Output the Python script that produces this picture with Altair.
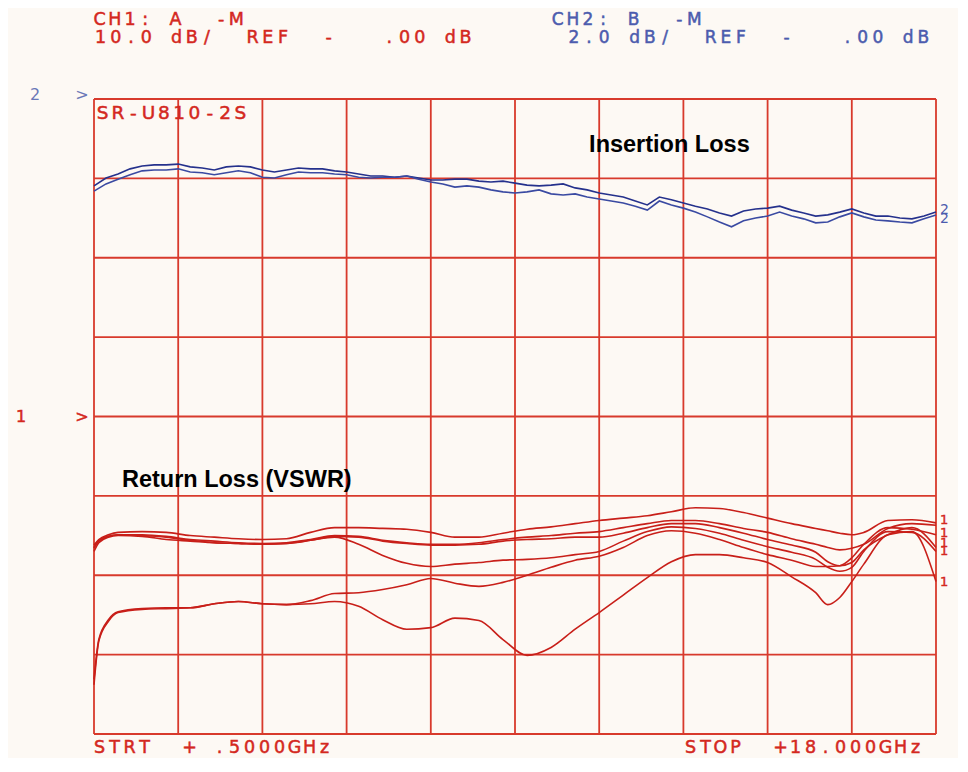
import altair as alt
import pandas as pd

# ---------------- colours ----------------
RED = "#d4281e"
RED_GRID = "#d83a2c"
RED_TRACE = "#c81f19"
BLUE_A = "#25318c"
BLUE_B = "#3a4aa2"
BLUE_TXT = "#4c5cae"
BG = "#fdf9f4"

# ---------------- data: channel 2 (insertion loss, dB) ----------------
FREQ_IL = [0.5, 0.75, 1.0, 1.25, 1.5, 1.75, 2.0, 2.25, 2.5, 2.75, 3.0, 3.25, 3.5, 3.75,
           4.0, 4.25, 4.5, 4.75, 5.0, 5.25, 5.5, 5.75, 6.0, 6.25, 6.5, 6.75, 7.0, 7.25,
           7.5, 7.75, 8.0, 8.25, 8.5, 8.75, 9.0, 9.25, 9.5, 9.75, 10.0, 10.25, 10.5, 10.75,
           11.0, 11.25, 11.5, 11.75, 12.0, 12.25, 12.5, 12.75, 13.0, 13.25, 13.5, 13.75,
           14.0, 14.25, 14.5, 14.75, 15.0, 15.25, 15.5, 15.75, 16.0, 16.25, 16.5, 16.75,
           17.0, 17.25, 17.5, 17.75, 18.0]
IL_UPPER = [-2.19, -1.99, -1.89, -1.76, -1.69, -1.66, -1.66, -1.64, -1.71, -1.74, -1.79, -1.71,
            -1.69, -1.71, -1.79, -1.84, -1.79, -1.74, -1.76, -1.76, -1.81, -1.84, -1.89, -1.94,
            -1.94, -1.97, -1.94, -1.99, -2.04, -2.04, -2.02, -2.02, -2.07, -2.09, -2.07, -2.12,
            -2.17, -2.19, -2.17, -2.14, -2.24, -2.29, -2.37, -2.42, -2.47, -2.57, -2.67, -2.47,
            -2.54, -2.62, -2.70, -2.77, -2.87, -2.95, -2.82, -2.77, -2.75, -2.70, -2.80, -2.87,
            -2.95, -2.92, -2.85, -2.77, -2.87, -2.95, -2.95, -3.00, -3.02, -2.95, -2.85]
IL_LOWER = [-2.32, -2.14, -2.02, -1.91, -1.81, -1.79, -1.79, -1.76, -1.84, -1.86, -1.91, -1.86,
            -1.81, -1.86, -1.97, -1.99, -1.91, -1.84, -1.86, -1.86, -1.89, -1.91, -1.97, -1.99,
            -1.97, -1.97, -1.94, -2.02, -2.09, -2.14, -2.22, -2.19, -2.22, -2.29, -2.34, -2.37,
            -2.34, -2.29, -2.39, -2.42, -2.39, -2.47, -2.52, -2.57, -2.62, -2.70, -2.80, -2.57,
            -2.67, -2.75, -2.85, -2.97, -3.10, -3.22, -3.07, -3.00, -2.95, -2.85, -2.95, -3.02,
            -3.12, -3.10, -2.97, -2.87, -2.97, -3.05, -3.07, -3.10, -3.12, -3.02, -2.92]
IL_LABEL_DB = [-2.80, -3.02]

# ---------------- data: channel 1 (return loss, dB) ----------------
FREQ_RL = [0.5, 0.6, 0.8, 1.0, 1.5, 2.0, 2.5, 3.0, 3.5, 4.0, 4.5, 5.0, 5.5, 6.0, 6.5, 7.0,
           7.5, 8.0, 8.5, 9.0, 9.5, 10.0, 10.5, 11.0, 11.5, 12.0, 12.5, 13.0, 13.5, 14.0,
           14.5, 15.0, 15.5, 15.75, 16.0, 16.25, 16.5, 17.0, 17.5, 18.0]
RL_1 = [-16.2, -15.5, -14.9, -14.6, -14.5, -14.6, -15.0, -15.2, -15.4, -15.5, -15.4, -14.6,
        -14.0, -14.0, -14.1, -14.2, -14.6, -15.2, -15.2, -14.7, -14.2, -13.9, -13.5, -13.1,
        -12.8, -12.5, -12.0, -11.5, -11.6, -12.1, -12.8, -13.5, -14.1, -14.4, -14.7, -14.9,
        -14.6, -13.1, -13.0, -13.4]
RL_2 = [-16.6, -15.6, -15.1, -14.9, -14.9, -15.1, -15.5, -15.7, -15.9, -16.0, -15.9, -15.5,
        -15.0, -15.1, -15.6, -15.9, -16.1, -16.1, -15.9, -15.5, -15.2, -15.0, -14.7, -14.5,
        -14.0, -13.5, -13.1, -13.1, -13.5, -14.1, -14.6, -15.4, -16.1, -16.5, -16.8, -16.6,
        -16.1, -14.1, -13.5, -13.7]
RL_3 = [-17.0, -15.9, -15.2, -15.0, -15.1, -15.5, -15.7, -15.9, -16.0, -16.1, -16.0, -15.6,
        -15.1, -15.2, -15.7, -16.0, -16.2, -16.2, -16.1, -15.7, -15.5, -15.4, -15.2, -15.2,
        -14.7, -14.0, -13.5, -13.5, -14.0, -14.7, -15.5, -16.2, -17.1, -18.3, -18.8, -18.4,
        -16.8, -14.9, -14.0, -16.5]
RL_4 = [-16.5, -15.7, -15.1, -14.9, -15.0, -15.2, -15.6, -15.9, -16.0, -16.1, -16.0, -15.6,
        -15.2, -16.1, -17.5, -18.5, -18.9, -18.6, -18.4, -18.1, -18.0, -17.8, -17.4, -17.0,
        -15.7, -14.5, -13.9, -14.1, -14.7, -15.6, -16.4, -17.1, -18.0, -19.0, -19.5, -19.0,
        -17.0, -14.5, -14.6, -17.0]
RL_5 = [-33.1, -28.1, -25.6, -24.6, -24.2, -24.1, -24.1, -23.6, -23.3, -23.6, -23.7, -23.2,
        -22.3, -22.2, -21.8, -21.2, -20.4, -21.0, -21.4, -20.9, -20.0, -19.0, -18.1, -17.6,
        -16.5, -15.0, -14.4, -14.7, -15.5, -16.5, -17.4, -18.1, -18.9, -18.9, -18.8, -17.8,
        -16.1, -14.0, -14.2, -14.9]
RL_6 = [-33.8, -28.3, -25.8, -24.7, -24.3, -24.2, -24.1, -23.6, -23.3, -23.6, -23.7, -23.6,
        -23.3, -23.9, -25.6, -26.8, -26.6, -25.4, -25.7, -28.1, -30.1, -29.1, -26.8, -24.7,
        -22.5, -20.3, -18.3, -17.4, -17.4, -17.8, -18.4, -20.2, -22.2, -23.7, -22.8, -20.8,
        -18.6, -14.9, -14.5, -20.8]
RL_LABEL_DB = [-13.1, -14.7, -15.9, -17.0, -20.9]

# ---------------- grid (10 x 8 divisions) ----------------
GRID_FREQ = [0.5, 2.25, 4.0, 5.75, 7.5, 9.25, 11.0, 12.75, 14.5, 16.25, 18.0]
GRID_DB1 = [-40, -30, -20, -10, 0, 10, 20, 30, 40]

# ---------------- plotter texts ----------------
PLOT_X0, PLOT_Y0 = 94, 99  # page position of the plot origin
PLOTTER_TEXT = [
    ("CH1: A  -M", 92, 25, 15.2, 17.5, RED),
    ("10.0 dB/  REF  -   .00 dB", 93, 43, 15.2, 17.5, RED),
    ("CH2: B  -M", 550, 25, 15.2, 17, BLUE_TXT),
    (" 2.0 dB/  REF  -   .00 dB", 551, 43, 15.2, 17, BLUE_TXT),
    ("SR-U810-2S", 95, 119, 15.3, 18.5, RED),
    ("STRT  + .5000GHz", 92, 753, 15.0, 17.5, RED),
    ("STOP  +18.000GHz", 683, 753, 15.0, 17.5, RED),
]

rows = []
for s, x0, base, pitch, fs, col in PLOTTER_TEXT:
    for i, ch in enumerate(s):
        if ch != " ":
            rows.append({"ch": ch, "px": x0 + (i + 0.5) * pitch - PLOT_X0,
                         "py": base - PLOT_Y0, "fs": fs, "col": col})
ptext_df = pd.DataFrame(rows)

# ---------------- frames ----------------
il_df = pd.concat([
    pd.DataFrame({"freq": FREQ_IL, "db": IL_UPPER, "trace": "a"}),
    pd.DataFrame({"freq": FREQ_IL, "db": IL_LOWER, "trace": "b"}),
])
rl_list = [RL_1, RL_2, RL_3, RL_4, RL_5, RL_6]
rl_df = pd.concat([
    pd.DataFrame({"freq": FREQ_RL, "db": v, "trace": f"t{i}"}) for i, v in enumerate(rl_list)
])
rl_end = pd.DataFrame({"freq": [FREQ_RL[-1]] * len(RL_LABEL_DB), "db": RL_LABEL_DB,
                       "lab": ["1"] * len(RL_LABEL_DB)})
il_end = pd.DataFrame({"freq": [FREQ_IL[-1]] * 2, "db": IL_LABEL_DB, "lab": ["2", "2"]})

xs = alt.Scale(domain=[0.5, 18], nice=False, zero=False)
y1 = alt.Scale(domain=[-40, 40], nice=False, zero=False)
y2 = alt.Scale(domain=[-16, 0], nice=False, zero=False)

X = alt.X("freq:Q", scale=xs, axis=None)
PFONT = "DejaVu Sans"

grid_v = alt.Chart(pd.DataFrame({"freq": GRID_FREQ})).mark_rule(
    color=RED_GRID, strokeWidth=1.8).encode(x=X)
grid_h = alt.Chart(pd.DataFrame({"db": GRID_DB1})).mark_rule(
    color=RED_GRID, strokeWidth=1.8).encode(y=alt.Y("db:Q", scale=y1, axis=None))

rl_lines = alt.Chart(rl_df).mark_line(
    color=RED_TRACE, strokeWidth=1.6, interpolate="monotone").encode(
    x=X, y=alt.Y("db:Q", scale=y1, axis=None), detail="trace:N")

rl_labels = alt.Chart(rl_end).mark_text(
    font=PFONT, fontSize=13, color=RED, align="left", baseline="middle", dx=4,
    stroke=RED, strokeWidth=0.4
).encode(x=X, y=alt.Y("db:Q", scale=y1, axis=None), text="lab:N")

il_lines = alt.Chart(il_df).mark_line(strokeWidth=1.6).encode(
    x=X, y=alt.Y("db:Q", scale=y2, axis=None),
    color=alt.Color("trace:N", scale=alt.Scale(domain=["a", "b"], range=[BLUE_A, BLUE_B]),
                    legend=None),
    detail="trace:N")

il_labels = alt.Chart(il_end).mark_text(
    font=PFONT, fontSize=14, color=BLUE_TXT, align="left", baseline="middle", dx=4
).encode(x=X, y=alt.Y("db:Q", scale=y2, axis=None), text="lab:N")

# reference markers "1 >" and "2 >"
ref1 = pd.DataFrame({"db": [0, 0], "lab": ["1", ">"], "px": [-73, -12]})
ref1_mark = alt.Chart(ref1).mark_text(
    font=PFONT, fontSize=16, color=RED, baseline="middle", align="center",
    stroke=RED, strokeWidth=0.5
).encode(x=alt.X("px:Q", scale=None), y=alt.Y("db:Q", scale=y1, axis=None), text="lab:N")
ref2 = pd.DataFrame({"db": [0, 0], "lab": ["2", ">"], "px": [-59, -12]})
ref2_mark = alt.Chart(ref2).mark_text(
    font=PFONT, fontSize=16, color="#6a78b8", baseline="middle", align="center", dy=-4
).encode(x=alt.X("px:Q", scale=None), y=alt.Y("db:Q", scale=y2, axis=None), text="lab:N")

# bold annotations
ann_il = alt.Chart(pd.DataFrame({"freq": [10.79], "db": [-1.34], "t": ["Insertion Loss"]})).mark_text(
    font="Liberation Sans", fontWeight="bold", fontSize=23.5, color="#000000",
    align="left", baseline="alphabetic"
).encode(x=X, y=alt.Y("db:Q", scale=y2, axis=None), text="t:N")
ann_rl = alt.Chart(pd.DataFrame({"freq": [1.08], "db": [-8.94], "t": ["Return Loss (VSWR)"]})).mark_text(
    font="Liberation Sans", fontWeight="bold", fontSize=23.5, color="#000000",
    align="left", baseline="alphabetic"
).encode(x=X, y=alt.Y("db:Q", scale=y1, axis=None), text="t:N")

ptext = alt.Chart(ptext_df).mark_text(
    font=PFONT, align="center", baseline="alphabetic", strokeWidth=0.5
).encode(
    x=alt.X("px:Q", scale=None), y=alt.Y("py:Q", scale=None),
    text="ch:N", size=alt.Size("fs:Q", scale=None),
    color=alt.Color("col:N", scale=None), stroke=alt.Stroke("col:N", scale=None))

chart = alt.layer(
    grid_v, grid_h, rl_lines, rl_labels, ref1_mark, ann_rl,
    il_lines, il_labels, ref2_mark, ann_il, ptext
).resolve_scale(y="independent", color="independent").properties(
    width=842, height=635,
    padding={"left": 86, "top": 91, "right": 22, "bottom": 24},
    autosize=alt.AutoSizeParams(type="none"),
    background=BG,
).configure_view(stroke=None)

chart.save("out.html", embed_options={"renderer": "svg", "actions": False})
